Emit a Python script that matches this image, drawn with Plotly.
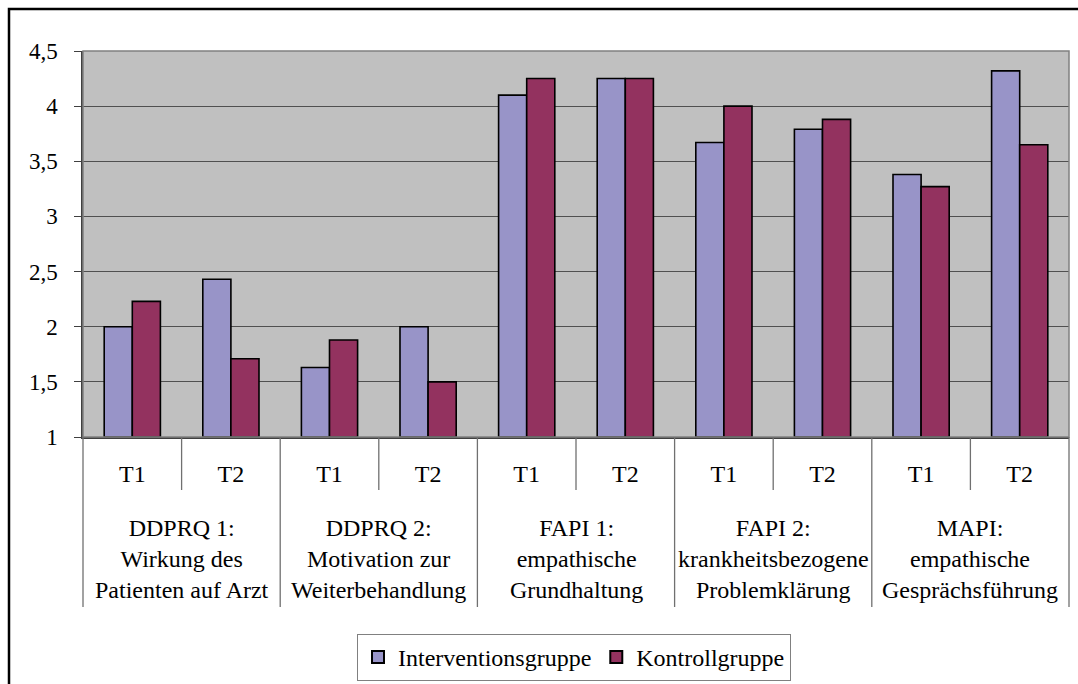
import plotly.graph_objects as go

# Messzeitpunkte je Skala und Skalenbezeichnungen
zeitpunkte = ["T1", "T2"]
skalen = [
    "DDPRQ 1:<br>Wirkung des<br>Patienten auf Arzt",
    "DDPRQ 2:<br>Motivation zur<br>Weiterbehandlung",
    "FAPI 1:<br>empathische<br>Grundhaltung",
    "FAPI 2:<br>krankheitsbezogene<br>Problemklärung",
    "MAPI:<br>empathische<br>Gesprächsführung",
]

# Mittelwerte je Gruppe (Reihenfolge: Skala x Zeitpunkt)
interventionsgruppe = [2.0, 2.43, 1.63, 2.0, 4.10, 4.25, 3.67, 3.79, 3.38, 4.32]
kontrollgruppe = [2.23, 1.71, 1.88, 1.5, 4.25, 4.25, 4.0, 3.88, 3.27, 3.65]

y_ticks = [1, 1.5, 2, 2.5, 3, 3.5, 4, 4.5]

W, H = 1078, 684
M_L, M_R, M_T, M_B = 83, 9, 51, 247
plot_w = W - M_L - M_R
plot_h = H - M_T - M_B

FONT = "Liberation Serif"
FS = 24
FS_Y = 23

n_cat = len(skalen) * len(zeitpunkte)
x_pos = list(range(n_cat))
x_labels = [zeitpunkte[i % len(zeitpunkte)] for i in x_pos]

fig = go.Figure()
fig.add_trace(go.Bar(
    x=x_pos, y=[v - y_ticks[0] for v in interventionsgruppe], base=y_ticks[0],
    name="Interventionsgruppe",
    marker=dict(color="#9894C8", line=dict(color="black", width=1.6)),
))
fig.add_trace(go.Bar(
    x=x_pos, y=[v - y_ticks[0] for v in kontrollgruppe], base=y_ticks[0],
    name="Kontrollgruppe",
    marker=dict(color="#93325F", line=dict(color="black", width=1.6)),
))


def px_to_py(dy):
    """Pixel offset below the x axis -> paper y coordinate."""
    return -dy / plot_h


def px_to_px(x):
    """Absolute pixel x -> paper x coordinate."""
    return (x - M_L) / plot_w


shapes = []
# chart frame
shapes.append(dict(type="rect", xref="paper", yref="paper",
                   x0=px_to_px(9), x1=px_to_px(W + 20),
                   y0=1 + (M_T - 9) / plot_h, y1=px_to_py(H - M_T - plot_h + 40),
                   line=dict(color="black", width=2.5), fillcolor="rgba(0,0,0,0)",
                   layer="below"))
# plot area border (top / right)
shapes.append(dict(type="rect", xref="paper", yref="paper", x0=0, x1=1, y0=0, y1=1,
                   line=dict(color="#808080", width=1.5), layer="above"))

# dividers of the category axis
row1 = px_to_py(53)
row2 = px_to_py(170)
for g in range(len(skalen) + 1):
    xb = (g * len(zeitpunkte)) / n_cat
    shapes.append(dict(type="line", xref="paper", yref="paper", x0=xb, x1=xb,
                       y0=0, y1=row2, line=dict(color="#707070", width=1.3)))
for g in range(len(skalen)):
    xb = (g * len(zeitpunkte) + 1) / n_cat
    shapes.append(dict(type="line", xref="paper", yref="paper", x0=xb, x1=xb,
                       y0=0, y1=row1, line=dict(color="#707070", width=1.3)))

annotations = []
for g, name in enumerate(skalen):
    xc = (g * len(zeitpunkte) + len(zeitpunkte) / 2) / n_cat
    annotations.append(dict(text=name, xref="paper", yref="paper", x=xc, y=px_to_py(122),
                            xanchor="center", yanchor="middle", showarrow=False,
                            align="center", font=dict(family=FONT, size=FS, color="black")))

fig.update_layout(
    width=W, height=H,
    margin=dict(l=M_L, r=M_R, t=M_T, b=M_B, pad=0, autoexpand=False),
    paper_bgcolor="white",
    plot_bgcolor="#C0C0C0",
    separators=", ",
    barmode="group",
    bargap=0.43,
    bargroupgap=0,
    font=dict(family=FONT, size=FS, color="black"),
    showlegend=True,
    legend=dict(orientation="h", xref="container", yref="container",
                x=574 / W, xanchor="center",
                y=1 - 634 / H, yanchor="top",
                bordercolor="#808080", borderwidth=1, bgcolor="white",
                font=dict(family=FONT, size=FS, color="black"),
                itemsizing="constant", tracegroupgap=0),
    shapes=shapes,
    annotations=annotations,
    xaxis=dict(
        range=[-0.5, n_cat - 0.5],
        tickmode="array", tickvals=x_pos, ticktext=x_labels,
        ticks="", showgrid=False, zeroline=False,
        showline=True, linecolor="#404040", linewidth=1.5,
        tickfont=dict(family=FONT, size=FS, color="black"),
        ticklabelstandoff=14,
        fixedrange=True,
    ),
    yaxis=dict(
        range=[y_ticks[0], y_ticks[-1]],
        tickmode="array", tickvals=y_ticks,
        ticktext=[f"{v:g}".replace(".", ",") for v in y_ticks],
        ticks="outside", ticklen=7, tickcolor="#404040", tickwidth=1.3,
        showgrid=True, gridcolor="#505050", gridwidth=1,
        zeroline=False,
        showline=True, linecolor="#404040", linewidth=1.5,
        tickfont=dict(family=FONT, size=FS_Y, color="black"),
        ticklabelstandoff=12,
        fixedrange=True,
    ),
)

fig.write_html("out.html")
